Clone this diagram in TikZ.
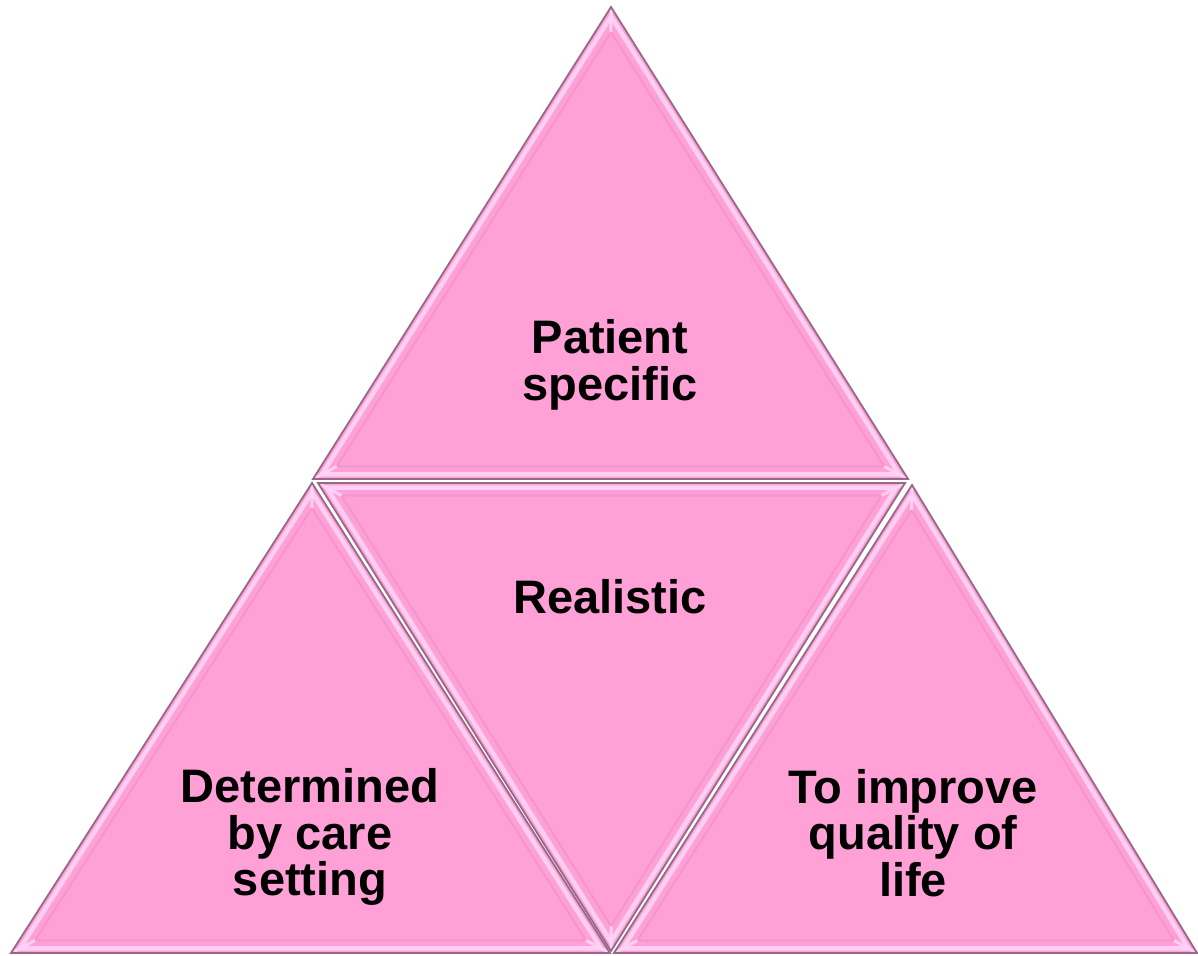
\documentclass[tikz,border=0pt]{standalone}
\usepackage{fontspec}
\setmainfont{Liberation Sans}
\usetikzlibrary{calc}
\definecolor{facepink}{RGB}{255,160,215}
\definecolor{edgegray}{RGB}{150,105,135}
\definecolor{hlpink}{RGB}{255,215,248}
\definecolor{shpink}{RGB}{235,135,195}
\newcommand\bevtri[4]{%
  \coordinate (#1c) at (barycentric cs:#2=1,#3=1,#4=1);
  \coordinate (#1i2) at ($(#1c)!0.92!(#2)$);
  \coordinate (#1i3) at ($(#1c)!0.92!(#3)$);
  \coordinate (#1i4) at ($(#1c)!0.92!(#4)$);
  \fill[facepink] (#2) -- (#3) -- (#4) -- cycle;
  \draw[hlband] ($(#1c)!0.97!(#2)$) -- ($(#1c)!0.97!(#3)$) -- ($(#1c)!0.97!(#4)$) -- cycle;
  \draw[hlinner] (#1i2) -- (#1i3) -- (#1i4) -- cycle;
  \draw[hlcorner] (#2) -- (#1i2) (#3) -- (#1i3) (#4) -- (#1i4);
  \draw[edge] (#2) -- (#3) -- (#4) -- cycle;
}
\begin{document}
\begin{tikzpicture}[x=1pt,y=-1pt,
  edge/.style={draw=edgegray, line width=1.8pt, line join=miter},
  hlband/.style={draw=hlpink, line width=4.5pt, opacity=0.85, line join=miter},
  hlinner/.style={draw=shpink, line width=2pt, opacity=0.45, line join=miter},
  hlcorner/.style={draw=hlpink, line width=3pt, opacity=0.85},
  lbl/.style={font=\bfseries\fontsize{47}{46.5}\selectfont, align=center, text=black, inner sep=0pt}]
\useasboundingbox (0,0) rectangle (1198,955);
\fill[white] (0,0) rectangle (1198,955);
% top triangle
\coordinate (A1) at (611,7);
\coordinate (A2) at (313,479);
\coordinate (A3) at (908,479);
% bottom-left
\coordinate (B1) at (312,483);
\coordinate (B2) at (11,953);
\coordinate (B3) at (610,953);
% middle inverted
\coordinate (C1) at (318,483);
\coordinate (C2) at (905,483);
\coordinate (C3) at (611,951);
% bottom-right
\coordinate (D1) at (912,485);
\coordinate (D2) at (614,953);
\coordinate (D3) at (1197,953);
\bevtri{A}{A1}{A2}{A3}
\bevtri{C}{C1}{C2}{C3}
\bevtri{B}{B1}{B2}{B3}
\bevtri{D}{D1}{D2}{D3}
\node[lbl] (pat) at (610,365) {Patient\\specific};
\node[lbl, anchor=base] (real) at (610,613) {Realistic};
\node[lbl] (det) at (310,837) {Determined\\by care\\setting};
\node[lbl] (imp) at (913,833) {To improve\\quality of\\life};
\end{tikzpicture}
\end{document}
